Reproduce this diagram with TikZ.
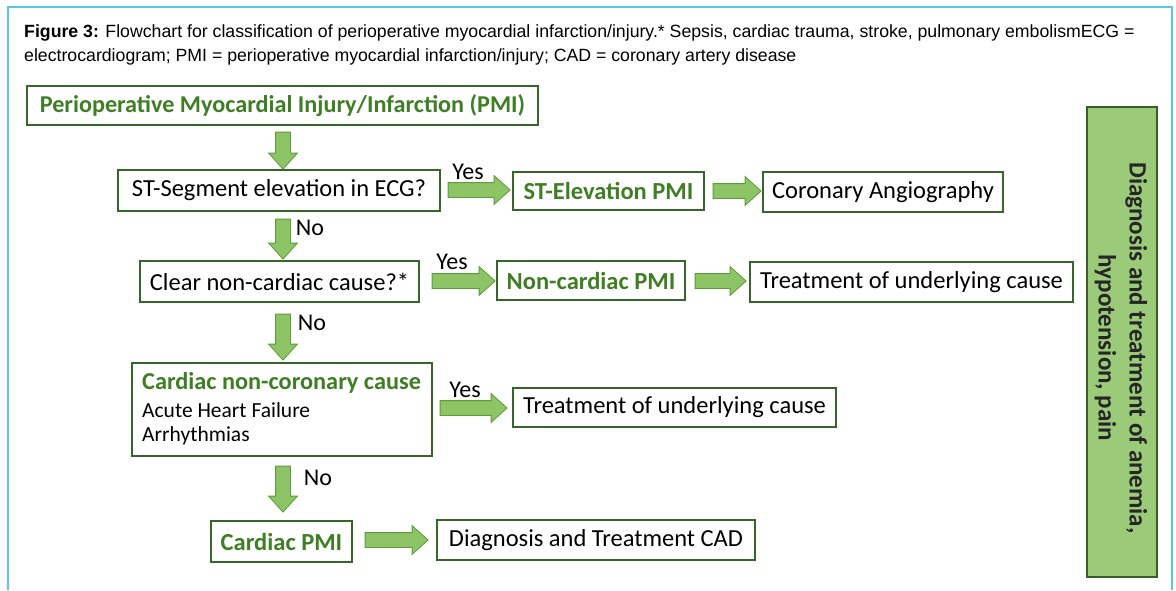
\documentclass[tikz,border=0pt]{standalone}
\usepackage{fontspec}
\setmainfont{Carlito}
\newfontfamily\capfont{Liberation Sans}
\usetikzlibrary{shapes.arrows,calc}
\definecolor{frameblue}{HTML}{5BC6E3}
\definecolor{boxgreen}{HTML}{37662A}
\definecolor{txtgreen}{HTML}{3F7F24}
\definecolor{arrfill}{HTML}{8DC466}
\definecolor{arrline}{HTML}{5F9A3E}
\definecolor{sidefill}{HTML}{9BCB79}
\definecolor{sideline}{HTML}{3A5E2A}
\tikzset{
  fbox/.style={draw=boxgreen, line width=1.6pt, fill=white, inner sep=0pt, align=center, font=\fontsize{24.5}{28}\selectfont},
  gbox/.style={fbox, text=txtgreen, font=\fontsize{24.5}{28}\selectfont\bfseries},
  barrow/.style={single arrow, draw=arrline, fill=arrfill, line width=0.8pt, inner xsep=0pt, inner ysep=7pt,
     minimum width=28pt, single arrow head extend=7pt, single arrow tip angle=84, single arrow head indent=0pt},
  lbl/.style={inner sep=0pt, font=\fontsize{24}{28}\selectfont}
}
\begin{document}
\begin{tikzpicture}[x=1pt,y=-1pt]
\useasboundingbox (0,0) rectangle (1176,590);
\fill[white] (0,0) rectangle (1176,590);
% frame
\draw[frameblue, line width=1.5pt] (8,590) -- (8,7) -- (1172,7) -- (1172,590);
% caption
\node[anchor=base west, inner sep=0pt, font=\capfont\fontsize{17.7}{21}\selectfont] (cap1) at (24,37)
  {\textbf{Figure 3:} Flowchart for classification of perioperative myocardial infarction/injury.* Sepsis, cardiac trauma, stroke, pulmonary embolismECG =};
\node[anchor=base west, inner sep=0pt, font=\capfont\fontsize{17.7}{21}\selectfont] (cap2) at (24,61)
  {electrocardiogram; PMI = perioperative myocardial infarction/injury; CAD = coronary artery disease};
% boxes
\node[gbox, minimum width=511pt, minimum height=39pt, font=\fontsize{24.2}{28}\selectfont\bfseries] (pmi) at (282.5,105.5) {Perioperative Myocardial Injury/Infarction (PMI)};
\node[fbox, minimum width=322pt, minimum height=41pt] (st) at (279,190.5) {ST-Segment elevation in ECG?};
\node[gbox, minimum width=191pt, minimum height=38pt] (ste) at (608.5,191) {ST-Elevation PMI};
\node[fbox, minimum width=240pt, minimum height=40pt] (cor) at (883,192) {Coronary Angiography};
\node[fbox, minimum width=279pt, minimum height=41pt] (clr) at (279.5,281.5) {Clear non-cardiac cause?*};
\node[gbox, minimum width=188pt, minimum height=39pt] (ncp) at (591,280.5) {Non-cardiac PMI};
\node[fbox, minimum width=323pt, minimum height=40pt] (tr1) at (911.5,282) {Treatment of underlying cause};
\node[fbox, minimum width=300pt, minimum height=93pt] (cnc) at (282,409.5) {};
\node[anchor=west, inner sep=0pt, text=txtgreen, font=\fontsize{24.3}{28}\selectfont\bfseries] (cnc1) at (142,383) {Cardiac non-coronary cause};
\node[anchor=west, inner sep=0pt, font=\fontsize{21.5}{25}\selectfont] (cnc2) at (142,410) {Acute Heart Failure};
\node[anchor=west, inner sep=0pt, font=\fontsize{21.5}{25}\selectfont] (cnc3) at (142,436) {Arrhythmias};
\node[fbox, minimum width=323pt, minimum height=39pt] (tr2) at (674.5,407.5) {Treatment of underlying cause};
\node[gbox, minimum width=141pt, minimum height=41pt] (cpm) at (281.5,541.5) {Cardiac PMI};
\node[fbox, minimum width=318pt, minimum height=40pt] (cad) at (596,540) {Diagnosis and Treatment CAD};
\node[draw=sideline, line width=1.6pt, fill=sidefill, minimum width=70pt, minimum height=470pt, inner sep=0pt] (side) at (1122,342) {};
\node[rotate=-90, align=center, inner sep=0pt, font=\fontsize{25}{31}\selectfont\bfseries, text=black!85] (sidetxt) at (1121,348)
  {Diagnosis and treatment of anemia,\\hypotension, pain};
% block arrows
\node[barrow, rotate=-90, minimum height=37pt] (a1) at (283,146.5) {};
\node[barrow, minimum height=62pt] (a2) at (475,190) {};
\node[barrow, minimum height=48pt] (a3) at (733,191) {};
\node[barrow, rotate=-90, minimum height=40pt] (a4) at (283,235) {};
\node[barrow, minimum height=63pt] (a5) at (459.5,281) {};
\node[barrow, minimum height=51pt] (a6) at (716.5,281) {};
\node[barrow, rotate=-90, minimum height=46pt] (a7) at (283,333) {};
\node[barrow, minimum height=67pt] (a8) at (469.5,408) {};
\node[barrow, rotate=-90, minimum height=46pt] (a9) at (283,485) {};
\node[barrow, minimum height=63pt] (a10) at (392.5,540) {};
% labels
\node[lbl] (y1) at (468,172) {Yes};
\node[lbl] (y2) at (452,262) {Yes};
\node[lbl] (y3) at (465,390) {Yes};
\node[lbl] (n1) at (310,228) {No};
\node[lbl] (n2) at (312,323) {No};
\node[lbl] (n3) at (318,478) {No};
\end{tikzpicture}
\end{document}
